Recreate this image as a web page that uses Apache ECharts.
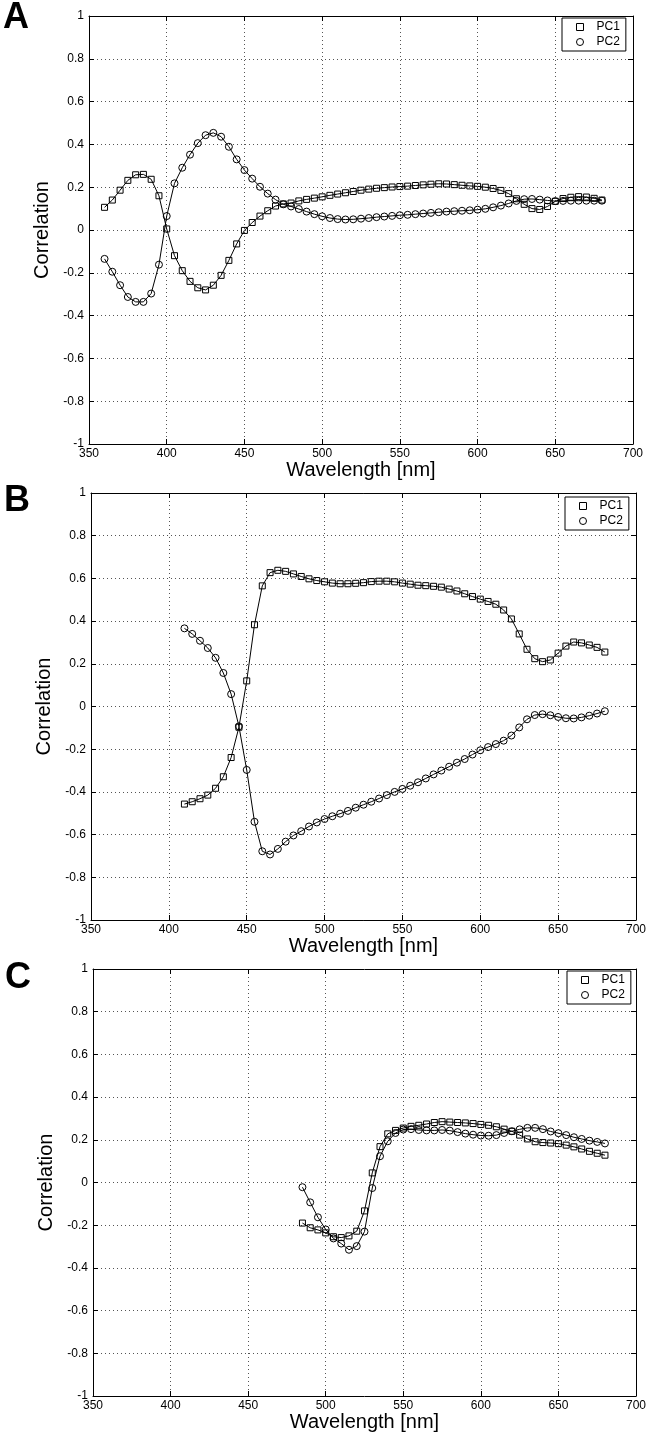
<!DOCTYPE html>
<html>
<head>
<meta charset="utf-8">
<script src="https://cdn.jsdelivr.net/npm/echarts@6/dist/echarts.min.js"></script>
<style>
  html, body { margin: 0; padding: 0; background: #fff; }
  #chart { width: 649px; height: 1437px; }
</style>
</head>
<body>
<div id="chart"></div>
<script>
// ---------- DATA ----------
const xTicks = [350, 400, 450, 500, 550, 600, 650, 700];
const yTicks = [-1, -0.8, -0.6, -0.4, -0.2, 0, 0.2, 0.4, 0.6, 0.8, 1];
const seriesNames = ['PC1', 'PC2'];
const panelLabels = ['A', 'B', 'C'];

// Panel A
const wlA = [360,365,370,375,380,385,390,395,400,405,410,415,420,425,430,435,440,445,450,455,460,465,470,475,480,485,490,495,500,505,510,515,520,525,530,535,540,545,550,555,560,565,570,575,580,585,590,595,600,605,610,615,620,625,630,635,640,645,650,655,660,665,670,675,680];
const pc1A = [0.106,0.14,0.186,0.232,0.258,0.26,0.237,0.16,0.005,-0.12,-0.19,-0.24,-0.27,-0.28,-0.258,-0.212,-0.142,-0.065,-0.002,0.035,0.065,0.09,0.112,0.122,0.126,0.136,0.143,0.149,0.155,0.162,0.168,0.174,0.18,0.186,0.191,0.195,0.198,0.201,0.203,0.205,0.208,0.211,0.214,0.216,0.215,0.212,0.209,0.206,0.204,0.2,0.194,0.185,0.17,0.146,0.12,0.1,0.096,0.11,0.134,0.147,0.153,0.156,0.154,0.148,0.14];
const pc2A = [-0.135,-0.195,-0.258,-0.313,-0.336,-0.336,-0.297,-0.162,0.065,0.218,0.291,0.352,0.406,0.443,0.454,0.436,0.389,0.33,0.28,0.24,0.202,0.17,0.142,0.12,0.11,0.098,0.086,0.074,0.064,0.056,0.051,0.049,0.05,0.053,0.056,0.06,0.063,0.066,0.069,0.071,0.074,0.077,0.08,0.083,0.086,0.088,0.09,0.092,0.095,0.099,0.106,0.114,0.124,0.136,0.144,0.145,0.142,0.138,0.135,0.136,0.137,0.137,0.137,0.137,0.137];

// Panel B
const wlB = [410,415,420,425,430,435,440,445,450,455,460,465,470,475,480,485,490,495,500,505,510,515,520,525,530,535,540,545,550,555,560,565,570,575,580,585,590,595,600,605,610,615,620,625,630,635,640,645,650,655,660,665,670,675,680];
const pc1B = [-0.457,-0.446,-0.432,-0.415,-0.383,-0.329,-0.239,-0.097,0.12,0.383,0.565,0.627,0.638,0.633,0.621,0.609,0.598,0.59,0.584,0.578,0.575,0.575,0.577,0.58,0.585,0.587,0.587,0.584,0.578,0.573,0.568,0.566,0.563,0.559,0.55,0.541,0.528,0.515,0.503,0.492,0.479,0.452,0.41,0.34,0.268,0.224,0.21,0.218,0.25,0.283,0.302,0.298,0.288,0.277,0.255];
const pc2B = [0.366,0.34,0.308,0.274,0.228,0.157,0.058,-0.093,-0.297,-0.54,-0.678,-0.693,-0.667,-0.633,-0.604,-0.584,-0.562,-0.543,-0.527,-0.514,-0.502,-0.489,-0.474,-0.46,-0.446,-0.431,-0.415,-0.4,-0.386,-0.371,-0.355,-0.337,-0.318,-0.3,-0.282,-0.263,-0.246,-0.225,-0.205,-0.19,-0.176,-0.16,-0.136,-0.098,-0.06,-0.04,-0.036,-0.041,-0.049,-0.055,-0.056,-0.051,-0.043,-0.033,-0.022];

// Panel C
const wlC = [485,490,495,500,505,510,515,520,525,530,535,540,545,550,555,560,565,570,575,580,585,590,595,600,605,610,615,620,625,630,635,640,645,650,655,660,665,670,675,680];
const pc1C = [-0.19,-0.212,-0.222,-0.236,-0.254,-0.258,-0.25,-0.228,-0.133,0.045,0.168,0.228,0.244,0.255,0.263,0.268,0.274,0.281,0.285,0.283,0.281,0.279,0.276,0.272,0.268,0.261,0.25,0.24,0.222,0.204,0.191,0.187,0.185,0.182,0.175,0.167,0.157,0.146,0.137,0.128];
const pc2C = [-0.022,-0.093,-0.163,-0.22,-0.262,-0.286,-0.315,-0.298,-0.23,-0.026,0.123,0.193,0.232,0.248,0.25,0.246,0.244,0.244,0.246,0.243,0.236,0.229,0.224,0.22,0.219,0.222,0.232,0.24,0.249,0.256,0.256,0.25,0.239,0.231,0.222,0.212,0.204,0.196,0.19,0.183];

// ---------- LAYOUT ----------
const FONT = '"Liberation Sans", Arial, Helvetica, sans-serif';
const panels = [
  { wl: wlA, pc1: pc1A, pc2: pc2A, grid: { left: 89, top: 16, width: 544, height: 428 }, legend: { left: 562, top: 18 }, title: { left: 3, top: 0 } },
  { wl: wlB, pc1: pc1B, pc2: pc2B, grid: { left: 91, top: 493, width: 545, height: 427 }, legend: { left: 565, top: 497 }, title: { left: 4, top: 483 } },
  { wl: wlC, pc1: pc1C, pc2: pc2C, grid: { left: 93, top: 969, width: 545, height: 427 }, legend: { left: 567, top: 971 }, title: { left: 5, top: 960 } }
];

const zip = (xs, ys) => xs.map((x, i) => [x, ys[i]]);
const fmtY = v => String(Math.round(v * 10) / 10);

const option = {
  backgroundColor: '#fff',
  animation: false,
  title: [], grid: [], xAxis: [], yAxis: [], legend: [], series: []
};

const axisLineStyle = { color: '#000', width: 1 };
const gridLineStyle = { color: '#555', width: 1, type: [1, 3] };

panels.forEach((p, i) => {
  option.title.push({
    text: panelLabels[i], left: p.title.left, top: p.title.top, padding: 0,
    textStyle: { fontFamily: FONT, fontSize: 36, fontWeight: 'bold', color: '#000' }
  });
  option.grid.push(Object.assign({ containLabel: false }, p.grid));
  // bottom x axis
  option.xAxis.push({
    type: 'value', gridIndex: i, position: 'bottom', min: xTicks[0], max: xTicks[xTicks.length - 1], interval: 50,
    name: 'Wavelength [nm]', nameLocation: 'middle', nameGap: 16,
    nameTextStyle: { fontFamily: FONT, fontSize: 20, color: '#000' },
    axisLine: { show: true, onZero: false, lineStyle: axisLineStyle },
    axisTick: { show: true, inside: true, length: 5, lineStyle: axisLineStyle },
    axisLabel: { show: true, margin: 4, fontFamily: FONT, fontSize: 12, color: '#000' },
    splitLine: { show: true, lineStyle: gridLineStyle }
  });
  // top x axis (box)
  option.xAxis.push({
    type: 'value', gridIndex: i, position: 'top', min: xTicks[0], max: xTicks[xTicks.length - 1], interval: 50,
    axisLine: { show: true, onZero: false, lineStyle: axisLineStyle },
    axisTick: { show: true, inside: true, length: 5, lineStyle: axisLineStyle },
    axisLabel: { show: false }, splitLine: { show: false }
  });
  // left y axis
  option.yAxis.push({
    type: 'value', gridIndex: i, position: 'left', min: yTicks[0], max: yTicks[yTicks.length - 1], interval: 0.2,
    name: 'Correlation', nameLocation: 'middle', nameGap: 27, nameRotate: 90,
    nameTextStyle: { fontFamily: FONT, fontSize: 20, color: '#000' },
    axisLine: { show: true, onZero: false, lineStyle: axisLineStyle },
    axisTick: { show: true, inside: true, length: 5, lineStyle: axisLineStyle },
    axisLabel: { show: true, margin: 5, fontFamily: FONT, fontSize: 12, color: '#000', formatter: fmtY },
    splitLine: { show: true, lineStyle: gridLineStyle }
  });
  // right y axis (box)
  option.yAxis.push({
    type: 'value', gridIndex: i, position: 'right', min: yTicks[0], max: yTicks[yTicks.length - 1], interval: 0.2,
    axisLine: { show: true, onZero: false, lineStyle: axisLineStyle },
    axisTick: { show: true, inside: true, length: 5, lineStyle: axisLineStyle },
    axisLabel: { show: false }, splitLine: { show: false }
  });
  option.legend.push({
    left: p.legend.left, top: p.legend.top, orient: 'vertical',
    padding: [3, 6, 3, 14], itemGap: 3, itemWidth: 7, itemHeight: 7,
    backgroundColor: '#fff', borderColor: '#000', borderWidth: 1, borderRadius: 0,
    selectedMode: false,
    itemStyle: { color: 'rgba(0,0,0,0)', borderColor: '#000', borderWidth: 1 },
    textStyle: { fontFamily: FONT, fontSize: 12, color: '#000', padding: [0, 0, 0, 8] },
    data: [{ name: seriesNames[0], icon: 'rect' }, { name: seriesNames[1], icon: 'circle' }]
  });
  const common = {
    type: 'line', xAxisIndex: 2 * i, yAxisIndex: 2 * i, showAllSymbol: true,
    lineStyle: { color: '#000', width: 1 },
    itemStyle: { color: 'rgba(0,0,0,0)', borderColor: '#000', borderWidth: 1 },
    emphasis: { disabled: true }, silent: true, z: 3
  };
  option.series.push(Object.assign({}, common, {
    name: seriesNames[0], symbol: 'rect', symbolSize: 6, data: zip(p.wl, p.pc1)
  }));
  option.series.push(Object.assign({}, common, {
    name: seriesNames[1], symbol: 'circle', symbolSize: 7, data: zip(p.wl, p.pc2)
  }));
});

const chart = echarts.init(document.getElementById('chart'), null, { renderer: 'canvas', devicePixelRatio: 1 });
chart.setOption(option);
</script>
</body>
</html>
